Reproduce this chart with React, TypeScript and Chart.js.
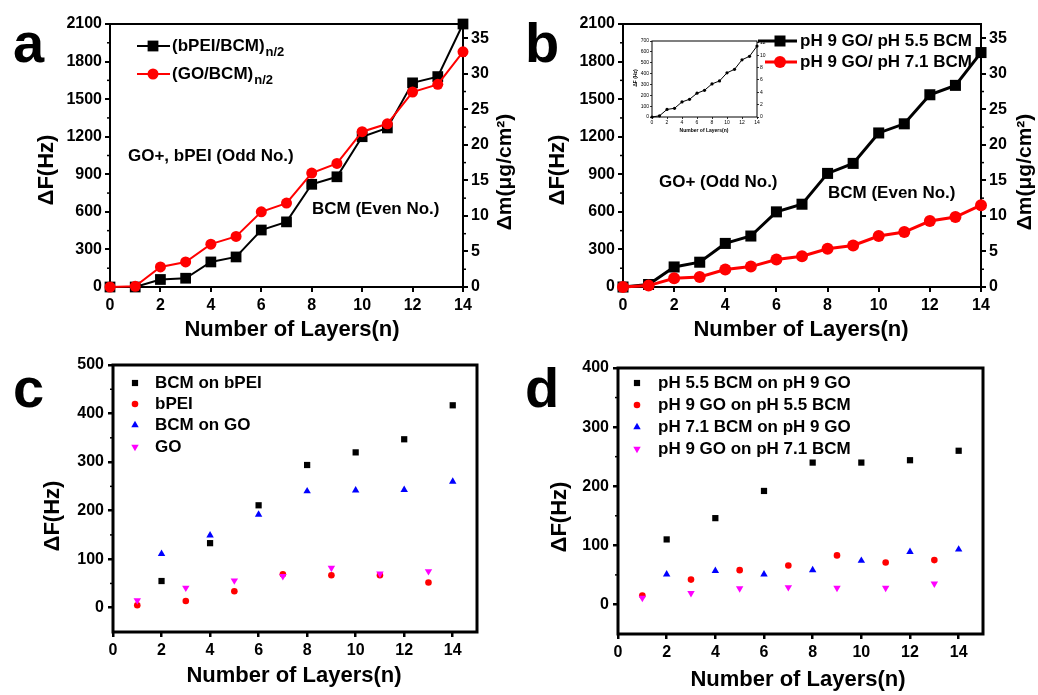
import React, { useEffect, useRef } from 'react';
import { Chart, registerables } from 'chart.js';

Chart.register(...registerables);

const FONT = '"Liberation Sans", Arial, Helvetica, sans-serif';

// ---------- data ----------
const layersAll = [0, 1, 2, 3, 4, 5, 6, 7, 8, 9, 10, 11, 12, 13, 14];
const layersEven = [2, 4, 6, 8, 10, 12, 14];
const layersOdd = [1, 3, 5, 7, 9, 11, 13];

// panel a
const aBpeiBcm = [0, 0, 60, 70, 200, 240, 455, 520, 820, 880, 1200, 1270, 1630, 1680, 2100];
const aGoBcm = [0, 5, 160, 200, 342, 404, 600, 670, 910, 987, 1240, 1303, 1557, 1618, 1878];

// panel b
const bPh55 = [0, 20, 160, 198, 348, 407, 600, 661, 907, 987, 1230, 1303, 1535, 1610, 1872];
const bPh71 = [0, 11, 70, 80, 139, 163, 219, 246, 305, 332, 407, 439, 527, 559, 653];

// panel c
const cBcmOnBpei = [55, 133, 211, 294, 320, 347, 417];
const cBpei = [5, 14, 34, 69, 67, 67, 52];
const cBcmOnGo = [111, 149, 192, 240, 242, 243, 260];
const cGo = [15, 41, 56, 65, 82, 70, 75];

// panel d
const dBcm55OnGo = [110, 146, 192, 240, 240, 244, 260];
const dGoOnBcm55 = [15, 42, 58, 66, 83, 71, 75];
const dBcm71OnGo = [51, 57, 51, 58, 74, 89, 93];
const dGoOnBcm71 = [11, 19, 27, 29, 28, 28, 35];

// tick labels
const xTickValues = [0, 2, 4, 6, 8, 10, 12, 14];
const freqTicksAB = [0, 300, 600, 900, 1200, 1500, 1800, 2100];
const massTicksAB = [0, 5, 10, 15, 20, 25, 30, 35];
const freqTicksC = [0, 100, 200, 300, 400, 500];
const freqTicksD = [0, 100, 200, 300, 400];
const insetFreqTicks = [0, 100, 200, 300, 400, 500, 600, 700];
const insetMassTicks = [0, 2, 4, 6, 8, 10, 12];

// ---------- helpers ----------
const toXY = (xs: number[], ys: number[]) => xs.map((x, i) => ({ x, y: ys[i] }));

function axis(o: any) {
  const horizontal = o.pos === 'bottom';
  return {
    type: 'linear',
    position: o.pos,
    min: o.min,
    max: o.max,
    afterBuildTicks: (s: any) => {
      s.ticks = o.ticks.map((v: number) => ({ value: v }));
    },
    afterFit: (s: any) => {
      if (horizontal) s.height = o.fit;
      else s.width = o.fit;
    },
    ticks: {
      font: { family: FONT, size: o.size, weight: o.weight || 'bold' },
      color: '#000',
      padding: o.pad,
      autoSkip: false,
      maxRotation: 0,
      callback: (v: any) => String(v),
    },
    grid: {
      drawOnChartArea: false,
      drawTicks: true,
      tickLength: o.tickLen,
      color: '#000',
      lineWidth: o.lw,
    },
    border: { display: false },
  };
}

function drawMarker(ctx: CanvasRenderingContext2D, style: string, x: number, y: number, r: number, color: string) {
  ctx.fillStyle = color;
  ctx.beginPath();
  if (style === 'rect') {
    ctx.rect(x - r, y - r, 2 * r, 2 * r);
  } else if (style === 'circle') {
    ctx.arc(x, y, r, 0, Math.PI * 2);
  } else if (style === 'tri') {
    ctx.moveTo(x, y - r);
    ctx.lineTo(x + r * 0.866, y + r * 0.5);
    ctx.lineTo(x - r * 0.866, y + r * 0.5);
    ctx.closePath();
  } else {
    ctx.moveTo(x, y + r);
    ctx.lineTo(x + r * 0.866, y - r * 0.5);
    ctx.lineTo(x - r * 0.866, y - r * 0.5);
    ctx.closePath();
  }
  ctx.fill();
}

const decoPlugin = {
  id: 'deco',
  beforeDatasetsDraw(chart: any, _a: any, opts: any) {
    const ctx = chart.ctx;
    const ca = chart.chartArea;
    ctx.save();
    ctx.strokeStyle = '#000';
    ctx.lineWidth = opts.frameWidth;
    ctx.strokeRect(ca.left, ca.top, ca.right - ca.left, ca.bottom - ca.top);
    ctx.lineWidth = opts.minorWidth || 1.5;
    for (const m of opts.minor || []) {
      const sc = chart.scales[m.id];
      for (const v of m.values) {
        const y = sc.getPixelForValue(v);
        const x = m.side === 'left' ? ca.left : ca.right;
        ctx.beginPath();
        ctx.moveTo(x, y);
        ctx.lineTo(m.side === 'left' ? x - m.len : x + m.len, y);
        ctx.stroke();
      }
    }
    ctx.restore();
  },
  afterDraw(chart: any, _a: any, opts: any) {
    const ctx = chart.ctx;
    const ox = opts.ox;
    const oy = opts.oy;
    ctx.save();
    ctx.fillStyle = '#000';
    for (const t of opts.texts || []) {
      ctx.save();
      ctx.font = `${t.weight || 'bold'} ${t.size}px ${FONT}`;
      ctx.fillStyle = '#000';
      ctx.textAlign = t.align || 'center';
      ctx.textBaseline = t.base || 'middle';
      ctx.translate(t.x - ox, t.y - oy);
      if (t.rot) ctx.rotate(-Math.PI / 2);
      ctx.fillText(t.text, 0, 0);
      ctx.restore();
    }
    for (const l of opts.legend || []) {
      const y = l.y - oy;
      if (l.line) {
        ctx.strokeStyle = l.color;
        ctx.lineWidth = l.lineWidth;
        ctx.beginPath();
        ctx.moveTo(l.line[0] - ox, y);
        ctx.lineTo(l.line[1] - ox, y);
        ctx.stroke();
      }
      drawMarker(ctx, l.style, l.mx - ox, y, l.r, l.color);
      ctx.fillStyle = '#000';
      ctx.font = `bold ${l.size}px ${FONT}`;
      ctx.textAlign = 'left';
      ctx.textBaseline = 'middle';
      ctx.fillText(l.label, l.tx - ox, y);
      if (l.sub) {
        const w = ctx.measureText(l.label).width;
        ctx.font = `bold ${Math.round(l.size * 0.78)}px ${FONT}`;
        ctx.fillText(l.sub, l.tx - ox + w + 1, y + 6);
      }
    }
    ctx.restore();
  },
};

function lineSet(data: any, color: string, style: string, r: number, bw: number) {
  return {
    type: 'line',
    data,
    borderColor: color,
    backgroundColor: color,
    borderWidth: bw,
    pointStyle: style,
    pointRadius: r,
    pointBackgroundColor: color,
    pointBorderColor: color,
    pointBorderWidth: 0,
    tension: 0,
    clip: false,
  };
}

function scatterSet(data: any, color: string, style: string, r: number, rot = 0) {
  return {
    type: 'scatter',
    data,
    backgroundColor: color,
    borderColor: color,
    pointStyle: style,
    pointRadius: r,
    pointRotation: rot,
    pointBorderWidth: 0,
    showLine: false,
    clip: false,
  };
}

const PANELS = [
  { left: 0, top: 0, width: 520, height: 345 },
  { left: 520, top: 0, width: 518, height: 345 },
  { left: 0, top: 345, width: 520, height: 350 },
  { left: 520, top: 345, width: 518, height: 350 },
  { left: 628, top: 34, width: 140, height: 105 },
];

function baseOptions(p: any, padding: any, scales: any, deco: any) {
  return {
    responsive: false,
    animation: false,
    devicePixelRatio: 1,
    layout: { padding },
    scales,
    plugins: {
      legend: { display: false },
      tooltip: { enabled: false },
      title: { display: false },
      deco: { ox: p.left, oy: p.top, ...deco },
    },
  };
}

const mid = (arr: number[]) => arr.slice(0, -1).map((v, i) => (v + arr[i + 1]) / 2);

function configA() {
  const p = PANELS[0];
  return {
    type: 'line',
    data: {
      datasets: [
        lineSet(toXY(layersAll, aGoBcm), '#ff0000', 'circle', 5.5, 2),
        lineSet(toXY(layersAll, aBpeiBcm), '#000000', 'rect', 7.6, 2),
      ],
    },
    options: baseOptions(
      p,
      { top: 24, left: 0, right: 0, bottom: 0 },
      {
        x: axis({ pos: 'bottom', min: 0, max: 14, ticks: xTickValues, fit: 58, size: 16, pad: 4, tickLen: 5, lw: 2 }),
        y: axis({ pos: 'left', min: 0, max: 2100, ticks: freqTicksAB, fit: 110, size: 16, pad: 3, tickLen: 5, lw: 2 }),
        y2: axis({ pos: 'right', min: 0, max: 37, ticks: massTicksAB, fit: 57, size: 16, pad: 3, tickLen: 5, lw: 2 }),
      },
      {
        frameWidth: 2,
        minor: [
          { id: 'y', side: 'left', len: 3, values: mid(freqTicksAB) },
          { id: 'y2', side: 'right', len: 3, values: mid(massTicksAB) },
        ],
        texts: [
          { text: 'a', x: 13, y: 62, size: 56, align: 'left', base: 'alphabetic' },
          { text: 'ΔF(Hz)', x: 47, y: 170, size: 22, rot: true },
          { text: 'Δm(μg/cm²)', x: 505, y: 172, size: 21, rot: true },
          { text: 'Number of Layers(n)', x: 292, y: 330, size: 22 },
          { text: 'GO+, bPEI (Odd No.)', x: 128, y: 156, size: 17, align: 'left' },
          { text: 'BCM (Even No.)', x: 312, y: 209, size: 17, align: 'left' },
        ],
        legend: [
          { label: '(bPEI/BCM)', sub: 'n/2', color: '#000', style: 'rect', r: 5.4, line: [137, 170], lineWidth: 2, mx: 153, tx: 172, y: 46, size: 17 },
          { label: '(GO/BCM)', sub: 'n/2', color: '#ff0000', style: 'circle', r: 5.5, line: [137, 170], lineWidth: 2, mx: 153, tx: 172, y: 74, size: 17 },
        ],
      }
    ),
    plugins: [decoPlugin],
  };
}

function configB() {
  const p = PANELS[1];
  return {
    type: 'line',
    data: {
      datasets: [
        lineSet(toXY(layersAll, bPh71), '#ff0000', 'circle', 6, 3),
        lineSet(toXY(layersAll, bPh55), '#000000', 'rect', 7.8, 3),
      ],
    },
    options: baseOptions(
      p,
      { top: 24, left: 0, right: 0, bottom: 0 },
      {
        x: axis({ pos: 'bottom', min: 0, max: 14, ticks: xTickValues, fit: 58, size: 16, pad: 4, tickLen: 5, lw: 2 }),
        y: axis({ pos: 'left', min: 0, max: 2100, ticks: freqTicksAB, fit: 103, size: 16, pad: 3, tickLen: 5, lw: 2 }),
        y2: axis({ pos: 'right', min: 0, max: 37, ticks: massTicksAB, fit: 57, size: 16, pad: 3, tickLen: 5, lw: 2 }),
      },
      {
        frameWidth: 2,
        minor: [
          { id: 'y', side: 'left', len: 3, values: mid(freqTicksAB) },
          { id: 'y2', side: 'right', len: 3, values: mid(massTicksAB) },
        ],
        texts: [
          { text: 'b', x: 525, y: 62, size: 56, align: 'left', base: 'alphabetic' },
          { text: 'ΔF(Hz)', x: 558, y: 170, size: 22, rot: true },
          { text: 'Δm(μg/cm²)', x: 1025, y: 172, size: 21, rot: true },
          { text: 'Number of Layers(n)', x: 801, y: 330, size: 22 },
          { text: 'GO+ (Odd No.)', x: 659, y: 182, size: 17, align: 'left' },
          { text: 'BCM (Even No.)', x: 828, y: 193, size: 17, align: 'left' },
        ],
        legend: [
          { label: 'pH 9 GO/ pH 5.5 BCM', color: '#000', style: 'rect', r: 5.5, line: [758, 797], lineWidth: 3, mx: 780, tx: 800, y: 41, size: 17 },
          { label: 'pH 9 GO/ pH 7.1 BCM', color: '#ff0000', style: 'circle', r: 6, line: [765, 797], lineWidth: 3, mx: 780, tx: 800, y: 62, size: 17 },
        ],
      }
    ),
    plugins: [decoPlugin],
  };
}

function configC() {
  const p = PANELS[2];
  return {
    type: 'scatter',
    data: {
      datasets: [
        scatterSet(toXY(layersOdd, cGo), '#ff00ff', 'triangle', 4.3, 180),
        scatterSet(toXY(layersEven, cBcmOnGo), '#0000ff', 'triangle', 4.3),
        scatterSet(toXY(layersOdd, cBpei), '#ff0000', 'circle', 3.3),
        scatterSet(toXY(layersEven, cBcmOnBpei), '#000000', 'rect', 4.4),
      ],
    },
    options: baseOptions(
      p,
      { top: 20, left: 0, right: 43, bottom: 0 },
      {
        x: axis({ pos: 'bottom', min: 0, max: 15, ticks: xTickValues, fit: 63, size: 16, pad: 4, tickLen: 5, lw: 2.5 }),
        y: axis({ pos: 'left', min: -50, max: 500, ticks: freqTicksC, fit: 113, size: 16, pad: 4, tickLen: 5, lw: 2.5 }),
      },
      {
        frameWidth: 3,
        minor: [{ id: 'y', side: 'left', len: 3, values: mid(freqTicksC) }],
        texts: [
          { text: 'c', x: 13, y: 407, size: 56, align: 'left', base: 'alphabetic' },
          { text: 'ΔF(Hz)', x: 53, y: 516, size: 22, rot: true },
          { text: 'Number of Layers(n)', x: 294, y: 676, size: 22 },
        ],
        legend: [
          { label: 'BCM on bPEI', color: '#000', style: 'rect', r: 3.1, mx: 135, tx: 155, y: 383, size: 17 },
          { label: 'bPEI', color: '#ff0000', style: 'circle', r: 3.3, mx: 135, tx: 155, y: 404, size: 17 },
          { label: 'BCM on GO', color: '#0000ff', style: 'tri', r: 4.3, mx: 135, tx: 155, y: 425, size: 17 },
          { label: 'GO', color: '#ff00ff', style: 'tridown', r: 4.3, mx: 135, tx: 155, y: 447, size: 17 },
        ],
      }
    ),
    plugins: [decoPlugin],
  };
}

function configD() {
  const p = PANELS[3];
  return {
    type: 'scatter',
    data: {
      datasets: [
        scatterSet(toXY(layersOdd, dGoOnBcm71), '#ff00ff', 'triangle', 4.3, 180),
        scatterSet(toXY(layersEven, dBcm71OnGo), '#0000ff', 'triangle', 4.3),
        scatterSet(toXY(layersOdd, dGoOnBcm55), '#ff0000', 'circle', 3.3),
        scatterSet(toXY(layersEven, dBcm55OnGo), '#000000', 'rect', 4.4),
      ],
    },
    options: baseOptions(
      p,
      { top: 23, left: 0, right: 55, bottom: 0 },
      {
        x: axis({ pos: 'bottom', min: 0, max: 15, ticks: xTickValues, fit: 61, size: 16, pad: 4, tickLen: 5, lw: 2.5 }),
        y: axis({ pos: 'left', min: -50, max: 400, ticks: freqTicksD, fit: 98, size: 16, pad: 4, tickLen: 5, lw: 2.5 }),
      },
      {
        frameWidth: 3,
        minor: [{ id: 'y', side: 'left', len: 3, values: mid(freqTicksD) }],
        texts: [
          { text: 'd', x: 525, y: 407, size: 56, align: 'left', base: 'alphabetic' },
          { text: 'ΔF(Hz)', x: 560, y: 517, size: 22, rot: true },
          { text: 'Number of Layers(n)', x: 798, y: 680, size: 22 },
        ],
        legend: [
          { label: 'pH 5.5 BCM on pH 9 GO', color: '#000', style: 'rect', r: 3.1, mx: 637, tx: 658, y: 383, size: 17 },
          { label: 'pH 9 GO on pH 5.5 BCM', color: '#ff0000', style: 'circle', r: 3.3, mx: 637, tx: 658, y: 405, size: 17 },
          { label: 'pH 7.1 BCM on pH 9 GO', color: '#0000ff', style: 'tri', r: 4.3, mx: 637, tx: 658, y: 427, size: 17 },
          { label: 'pH 9 GO on pH 7.1 BCM', color: '#ff00ff', style: 'tridown', r: 4.3, mx: 637, tx: 658, y: 449, size: 17 },
        ],
      }
    ),
    plugins: [decoPlugin],
  };
}

function configInset() {
  const p = PANELS[4];
  return {
    type: 'line',
    data: {
      datasets: [lineSet(toXY(layersAll, bPh71), '#000000', 'circle', 1.6, 1)],
    },
    options: baseOptions(
      p,
      { top: 7, left: 0, right: 0, bottom: 0 },
      {
        x: axis({ pos: 'bottom', min: 0, max: 14, ticks: xTickValues, fit: 22, size: 5, weight: 'normal', pad: 1, tickLen: 2, lw: 0.8 }),
        y: axis({ pos: 'left', min: 0, max: 700, ticks: insetFreqTicks, fit: 24, size: 5, weight: 'normal', pad: 1, tickLen: 2, lw: 0.8 }),
        y2: axis({ pos: 'right', min: 0, max: 12.3, ticks: insetMassTicks, fit: 11, size: 5, weight: 'normal', pad: 1, tickLen: 2, lw: 0.8 }),
      },
      {
        frameWidth: 1,
        minorWidth: 0.6,
        minor: [],
        texts: [
          { text: 'ΔF (Hz)', x: 636, y: 78, size: 5, rot: true },
          { text: 'Number of Layers(n)', x: 704, y: 131, size: 5 },
        ],
        legend: [],
      }
    ),
    plugins: [decoPlugin],
  };
}

const CONFIGS = [configA, configB, configC, configD, configInset];

export default function App() {
  const refs = useRef<(HTMLCanvasElement | null)[]>([]);

  useEffect(() => {
    const charts: Chart[] = [];
    CONFIGS.forEach((make, i) => {
      const c = refs.current[i];
      if (c) charts.push(new Chart(c, make() as any));
    });
    return () => charts.forEach((c) => c.destroy());
  }, []);

  return (
    <div style={{ position: 'absolute', left: 0, top: 0, width: 1038, height: 695, background: '#fff', overflow: 'hidden' }}>
      {PANELS.map((p, i) => (
        <canvas
          key={i}
          ref={(el) => {
            refs.current[i] = el;
          }}
          width={p.width}
          height={p.height}
          style={{ position: 'absolute', left: p.left, top: p.top, width: p.width, height: p.height }}
        />
      ))}
    </div>
  );
}
